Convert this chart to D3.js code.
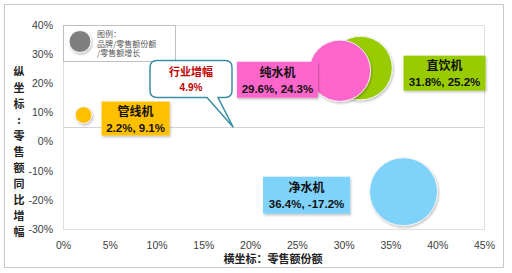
<!DOCTYPE html>
<html>
<head>
<meta charset="utf-8">
<script src="https://cdn.jsdelivr.net/npm/d3@7"></script>
<style>
  html, body { margin: 0; padding: 0; background: #fff; }
  svg { display: block; font-family: "Liberation Sans", Arial, "Noto Sans CJK SC", sans-serif; }
</style>
</head>
<body>
<div id="chart"></div>
<script>
// データ-------------------------------------------------------------------------------------
const brands = ['管线机', '纯水机', '直饮机', '净水机'];
const shareVals = [2.2, 29.6, 31.8, 36.4];      // 零售额份额 (%)
const growthVals = [9.1, 24.3, 25.2, -17.2];    // 零售额同比增幅 (%)
const industryGrowth = 4.9;
const xTicks = [0, 5, 10, 15, 20, 25, 30, 35, 40, 45];
const yTicks = [-30, -20, -10, 0, 10, 20, 30, 40];
const legendLines = ['图例：', '品牌/零售额份额', '/零售额增长'];
const xTitle = '横坐标：零售额份额';
const yTitle = '纵坐标：零售额同比增幅';
const calloutTitle = '行业增幅';

// 見た目の設定-------------------------------------------------------------------------------
const width = 512, height = 273;
const margin = { top: 25, right: 28, bottom: 44, left: 63 };
const fills = { '管线机': '#FFC000', '纯水机': '#FF66CC', '直饮机': '#99CC00', '净水机': '#7FD2FA' };
// ラベル枠：バブル中心からのずれと大きさ
const labelLayout = {
  '管线机': { dx: 52, dy: 3.5, w: 68, h: 34 },
  '纯水机': { dx: -62.5, dy: 9, w: 81, h: 36 },
  '直饮机': { dx: 84, dy: 5, w: 82, h: 35 },
  '净水机': { dx: -97, dy: 3.5, w: 87, h: 37 }
};
const cjk = '"Noto Sans CJK SC", sans-serif';

const svg = d3.select('#chart').append('svg')
  .attr('width', width)
  .attr('height', height);

const defs = svg.append('defs');
const sh = defs.append('filter').attr('id', 'shadow')
  .attr('x', '-20%').attr('y', '-20%').attr('width', '150%').attr('height', '150%');
sh.append('feDropShadow').attr('dx', 1).attr('dy', 1.5).attr('stdDeviation', 1)
  .attr('flood-color', '#000').attr('flood-opacity', 0.25);

// 外枠
svg.append('rect')
  .attr('x', 4.5).attr('y', 4.5)
  .attr('width', 499).attr('height', 263)
  .attr('fill', '#fff')
  .attr('stroke', '#c8c8c8');

// スケール------------------------------------------------------------------------------------
const xScale = d3.scaleLinear()
  .domain([0, 45])
  .range([margin.left, width - margin.right]);
const yScale = d3.scaleLinear()
  .domain([-30, 40])
  .range([height - margin.bottom, margin.top]);
const rScale = d3.scaleSqrt()
  .domain([0, d3.max(shareVals)])
  .range([0, 34]);

// プロット領域の枠
svg.append('rect')
  .attr('x', xScale(0) + 0.5).attr('y', yScale(40) + 0.5)
  .attr('width', xScale(45) - xScale(0)).attr('height', yScale(-30) - yScale(40))
  .attr('fill', 'none')
  .attr('stroke', '#e0e0e0');

// 行業増幅の線
svg.append('line')
  .attr('x1', xScale(0)).attr('x2', xScale(45))
  .attr('y1', Math.round(yScale(industryGrowth)) + 0.5)
  .attr('y2', Math.round(yScale(industryGrowth)) + 0.5)
  .attr('stroke', '#d4d4d4')
  .attr('stroke-width', 1);

// x軸
const xAxis = svg.append('g')
  .attr('transform', 'translate(0,' + (yScale(-30)) + ')')
  .call(d3.axisBottom(xScale).tickValues(xTicks).tickSize(0).tickPadding(13)
    .tickFormat(d => d + '%'));
xAxis.select('.domain').remove();
xAxis.selectAll('text')
  .attr('font-size', '10.5px')
  .attr('fill', '#404040')
  .style('font-family', 'inherit');

// y軸
const yAxis = svg.append('g')
  .attr('transform', 'translate(' + (xScale(0)) + ',0)')
  .call(d3.axisLeft(yScale).tickValues(yTicks).tickSize(0).tickPadding(10)
    .tickFormat(d => d + '%'));
yAxis.select('.domain').remove();
yAxis.selectAll('text')
  .attr('font-size', '10.5px')
  .attr('fill', '#404040')
  .style('font-family', 'inherit');

// 軸タイトル
svg.append('text')
  .attr('x', 273).attr('y', 263)
  .attr('text-anchor', 'middle')
  .attr('font-size', '11px')
  .attr('font-weight', 'bold')
  .attr('fill', '#222')
  .style('font-family', cjk)
  .text(xTitle);
svg.append('g').selectAll('text')
  .data(Array.from(yTitle))
  .enter()
  .append('text')
  .attr('x', 19)
  .attr('y', (d, i) => 76 + 16 * i)
  .attr('text-anchor', 'middle')
  .attr('font-size', '11px')
  .attr('font-weight', 'bold')
  .attr('fill', '#222')
  .style('font-family', cjk)
  .text(d => d === '：' ? ':' : d);

// 凡例----------------------------------------------------------------------------------------
const legend = svg.append('g');
legend.append('rect')
  .attr('x', 63.5).attr('y', 25.5)
  .attr('width', 112).attr('height', 36)
  .attr('fill', '#fff')
  .attr('stroke', '#bfbfbf');
legend.append('circle')
  .attr('cx', 80).attr('cy', 41.5).attr('r', 11)
  .attr('fill', '#7f7f7f')
  .attr('stroke', '#fff')
  .attr('filter', 'url(#shadow)');
legend.selectAll('.lg-text')
  .data(legendLines)
  .enter()
  .append('text')
  .attr('class', 'lg-text')
  .attr('x', 97)
  .attr('y', (d, i) => 37 + 9.5 * i)
  .attr('font-size', '8px')
  .attr('fill', '#595959')
  .style('font-family', cjk)
  .text(d => d);

// バブル--------------------------------------------------------------------------------------
const points = brands.map((b, i) => ({ name: b, share: shareVals[i], growth: growthVals[i] }));
const drawOrder = points.slice().sort((a, b) => b.share - a.share);
svg.append('g').selectAll('circle')
  .data(drawOrder)
  .enter()
  .append('circle')
  .attr('cx', d => xScale(d.share))
  .attr('cy', d => yScale(d.growth))
  .attr('r', d => rScale(d.share))
  .attr('fill', d => fills[d.name])
  .attr('stroke', '#f2f2f2')
  .attr('stroke-width', 1)
  .attr('filter', 'url(#shadow)');

// ラベル枠------------------------------------------------------------------------------------
const labelG = svg.append('g').selectAll('g')
  .data(points)
  .enter()
  .append('g')
  .attr('transform', d => {
    const l = labelLayout[d.name];
    return 'translate(' + (xScale(d.share) + l.dx) + ',' + (yScale(d.growth) + l.dy) + ')';
  });
labelG.append('rect')
  .attr('x', d => -labelLayout[d.name].w / 2)
  .attr('y', d => -labelLayout[d.name].h / 2)
  .attr('width', d => labelLayout[d.name].w)
  .attr('height', d => labelLayout[d.name].h)
  .attr('fill', d => fills[d.name])
  .attr('filter', 'url(#shadow)');
labelG.append('text')
  .attr('y', -3)
  .attr('text-anchor', 'middle')
  .attr('font-size', '12px')
  .attr('font-weight', 'bold')
  .attr('fill', '#111')
  .style('font-family', cjk)
  .text(d => d.name);
labelG.append('text')
  .attr('y', 13)
  .attr('text-anchor', 'middle')
  .attr('font-size', '11.5px')
  .attr('font-weight', 'bold')
  .attr('fill', '#111')
  .text(d => d.share.toFixed(1) + '%,  ' + d.growth.toFixed(1) + '%');

// 吹き出し（行業増幅）-------------------------------------------------------------------------
const tipX = xScale(18.2), tipY = yScale(industryGrowth);
const bx = 150, by = 60.5, bw = 82, bh = 37, rr = 7;
const p = d3.path();
p.moveTo(bx + rr, by);
p.lineTo(bx + bw - rr, by);
p.quadraticCurveTo(bx + bw, by, bx + bw, by + rr);
p.lineTo(bx + bw, by + bh - rr);
p.quadraticCurveTo(bx + bw, by + bh, bx + bw - rr, by + bh);
p.lineTo(218, by + bh);
p.lineTo(tipX, tipY);
p.lineTo(207, by + bh);
p.lineTo(bx + rr, by + bh);
p.quadraticCurveTo(bx, by + bh, bx, by + bh - rr);
p.lineTo(bx, by + rr);
p.quadraticCurveTo(bx, by, bx + rr, by);
p.closePath();
svg.append('path')
  .attr('d', p.toString())
  .attr('fill', '#fff')
  .attr('stroke', '#3a8fa3')
  .attr('stroke-width', 1.5);
svg.append('text')
  .attr('x', bx + bw / 2).attr('y', 76)
  .attr('text-anchor', 'middle')
  .attr('font-size', '11px')
  .attr('font-weight', 'bold')
  .attr('fill', '#C00000')
  .style('font-family', cjk)
  .text(calloutTitle);
svg.append('text')
  .attr('x', bx + bw / 2).attr('y', 91)
  .attr('text-anchor', 'middle')
  .attr('font-size', '10px')
  .attr('font-weight', 'bold')
  .attr('fill', '#C00000')
  .text(industryGrowth.toFixed(1) + '%');
</script>
</body>
</html>
